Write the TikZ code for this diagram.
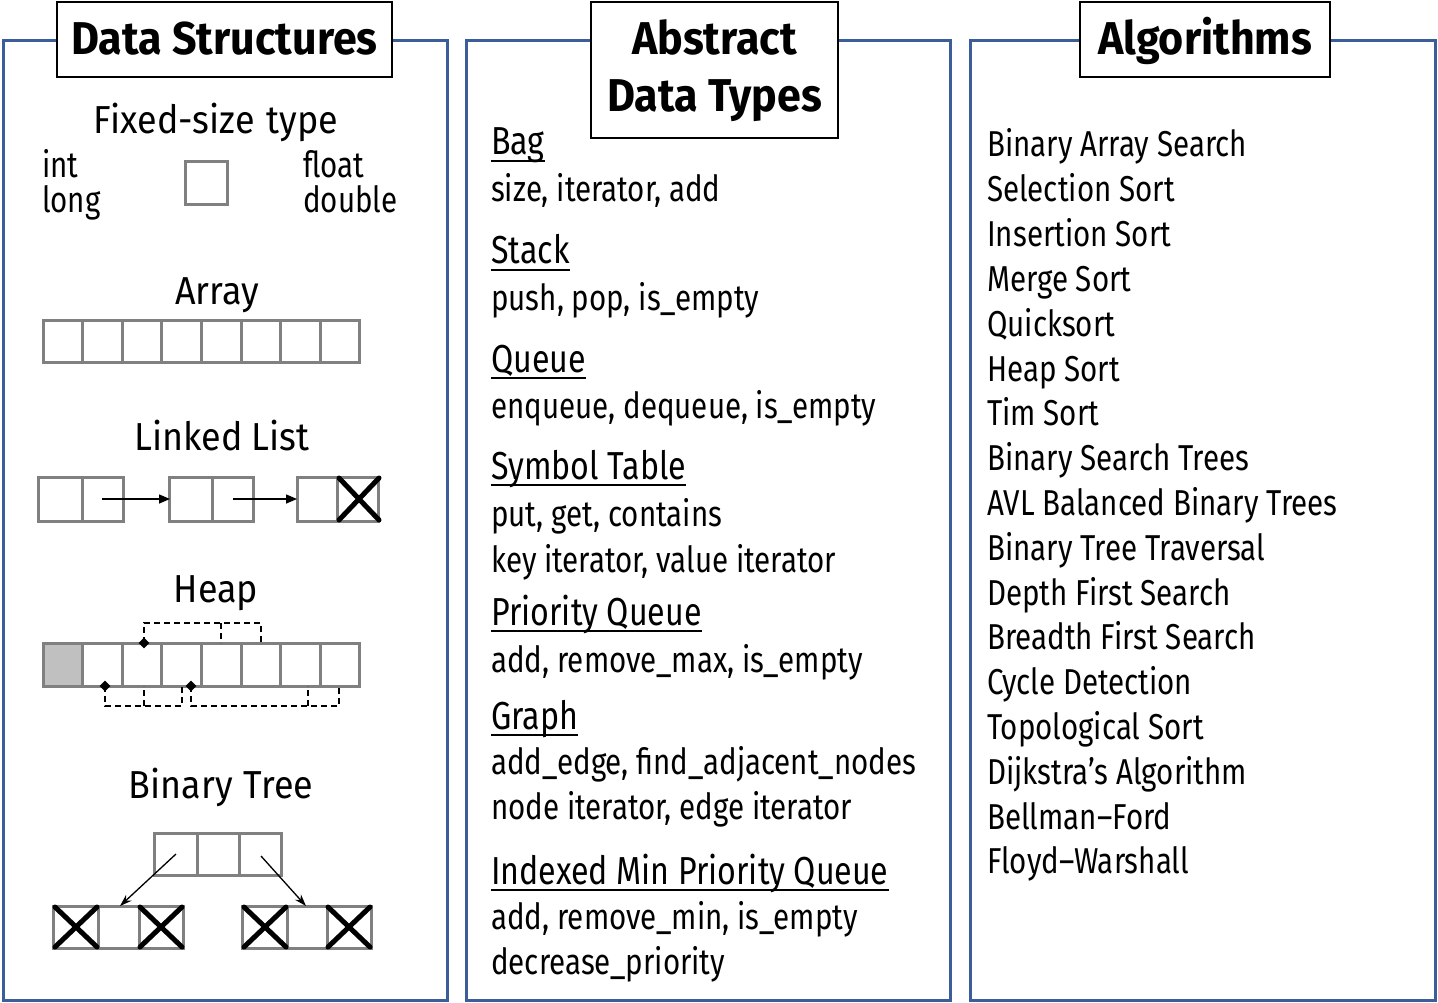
\documentclass[tikz,border=0pt]{standalone}
\usepackage{fontspec}
\usetikzlibrary{arrows.meta,shapes.geometric}
\newfontfamily\bodyfont{Fira Sans}[FakeStretch=0.82]
\newfontfamily\headingfont{Fira Sans}[FakeStretch=0.825]
\newfontfamily\leftfont{Fira Sans}[FakeStretch=0.92]
\newfontfamily\headfont{Fira Sans}[FakeStretch=0.935]
\definecolor{panelblue}{RGB}{59,94,154}
\definecolor{cellgray}{RGB}{128,128,128}
\definecolor{rootfill}{RGB}{192,192,192}
\tikzset{
  panel/.style={draw=panelblue, line width=3pt},
  titlebox/.style={draw=black, fill=white, line width=2.5pt, inner sep=0pt},
  titletext/.style={anchor=base, inner sep=0pt, font=\headfont\bfseries\fontsize{46}{57}\selectfont},
  txt/.style={anchor=base west, inner sep=0pt, font=\bodyfont\fontsize{36}{43}\selectfont},
  htxt/.style={anchor=base west, inner sep=0pt, font=\headingfont\fontsize{39}{46}\selectfont},
  ctxt/.style={anchor=base, inner sep=0pt, font=\leftfont\fontsize{39}{46}\selectfont},
  cell/.style={draw=cellgray, line width=3pt},
  xmark/.style={draw=black, line width=5pt, line cap=round},
  link/.style={draw=black, line width=1.5pt, -{Triangle[length=11pt,width=9pt]}},
  dlink/.style={draw=black, line width=1.3pt, -{Stealth[length=12pt,width=8pt]}},
  heapdash/.style={draw=black, line width=2pt, dash pattern=on 6pt off 4pt},
  diam/.style={diamond, fill=black, inner sep=0pt, minimum size=11pt},
  uline/.style={draw=black, line width=1.8pt}
}
\begin{document}
\begin{tikzpicture}[x=1pt, y=-1pt]
\path[use as bounding box, fill=white] (0,0) rectangle (1438,1003);

% panels
\draw[panel] (3,41) rectangle (447,1000);
\draw[panel] (466,41) rectangle (950,1000);
\draw[panel] (970,41) rectangle (1435,1000);

% title boxes
\node[titlebox, minimum width=335pt, minimum height=75pt] (tds) at (224.5,39.5) {};
\node[titletext] (tdst) at (224.5,55) {Data Structures};
\node[titlebox, minimum width=247pt, minimum height=136pt] (tadt) at (714.5,70) {};
\node[titletext] (tadt1) at (714.5,55) {Abstract};
\node[titletext] (tadt2) at (714.5,112) {Data Types};
\node[titlebox, minimum width=250pt, minimum height=75pt] (talg) at (1205,39.5) {};
\node[titletext] (talgt) at (1205,55) {Algorithms};

% ---------------- Data Structures ----------------
\node[ctxt] (fixed) at (216,134) {Fixed-size\hspace{12pt}type};
\node[txt] (int) at (42,178) {int};
\node[txt] (long) at (42,213) {long};
\node[txt] (float) at (303,178) {float};
\node[txt] (double) at (303,213) {double};
\draw[cell] (185,162) rectangle (227,205);

\node[ctxt] (array) at (217,304) {Array};
\foreach \i in {0,...,7} {
  \draw[cell] ({43+39.6*\i},320) rectangle ({43+39.6*(\i+1)},362);
}

\node[ctxt] (ll) at (222,450) {Linked List};
\draw[cell] (38,477) rectangle (123,521);
\draw[cell] (82,477) -- (82,521);
\draw[cell] (169,477) rectangle (253,521);
\draw[cell] (212,477) -- (212,521);
\draw[cell] (297,477) rectangle (378,521);
\draw[cell] (337,477) -- (337,521);
\draw[xmark] (339,478) -- (379,520);
\draw[xmark] (339,520) -- (379,478);
\coordinate (l1s) at (102,499);
\coordinate (l1e) at (170,499);
\coordinate (l2s) at (233,499);
\coordinate (l2e) at (297,499);
\draw[link] (l1s) -- (l1e);
\draw[link] (l2s) -- (l2e);

\node[ctxt] (heap) at (216,602) {Heap};
\fill[rootfill] (43,643) rectangle (82.6,686);
\foreach \i in {0,...,7} {
  \draw[cell] ({43+39.6*\i},643) rectangle ({43+39.6*(\i+1)},686);
}
\coordinate (h2) at (144,643);
\coordinate (h1) at (105,686);
\coordinate (h3) at (191,686);
\draw[heapdash] (h2) -- (144,623) -- (261,623) -- (261,643);
\draw[heapdash] (221,623) -- (221,643);
\draw[heapdash] (h1) -- (105,706) -- (182,706) -- (182,686);
\draw[heapdash] (144,706) -- (144,686);
\draw[heapdash] (h3) -- (191,706) -- (339,706) -- (339,686);
\draw[heapdash] (308,706) -- (308,686);
\node[diam] (d2) at (h2) {};
\node[diam] (d1) at (h1) {};
\node[diam] (d3) at (h3) {};

\node[ctxt] (bt) at (221,798) {Binary\hspace{11pt}Tree};
\draw[cell] (154,833) rectangle (281,875);
\draw[cell] (197,833) -- (197,875);
\draw[cell] (239,833) -- (239,875);
\draw[cell] (53,906) rectangle (183,948);
\draw[cell] (98,906) -- (98,948);
\draw[cell] (139,906) -- (139,948);
\draw[cell] (242,906) rectangle (371,948);
\draw[cell] (287,906) -- (287,948);
\draw[cell] (327,906) -- (327,948);
\foreach \a/\b in {55/97, 140/182, 244/286, 328/370} {
  \draw[xmark] (\a,907) -- (\b,947);
  \draw[xmark] (\a,947) -- (\b,907);
}
\coordinate (tl) at (176,854);
\coordinate (tlc) at (120,906);
\coordinate (tr) at (261,856);
\coordinate (trc) at (306,906);
\draw[dlink] (tl) -- (tlc);
\draw[dlink] (tr) -- (trc);

% ---------------- Abstract Data Types ----------------
\node[htxt] (bag) at (491,155) {Bag\ };
\node[txt] (bagops) at (491,202) {size, iterator, add};
\node[htxt] (stack) at (491,264) {Stack};
\node[txt] (stackops) at (491,310) {push, pop, is\_empty};
\node[htxt] (queue) at (491,372) {Queue};
\node[txt] (queueops) at (491,418) {enqueue, dequeue, is\_empty};
\node[htxt] (st) at (491,479) {Symbol Table};
\node[txt] (stops1) at (491,526) {put, get, contains};
\node[txt] (stops2) at (491,572) {key iterator, value iterator};
\node[htxt] (pq) at (491,625) {Priority Queue};
\node[txt] (pqops) at (491,672) {add, remove\_max, is\_empty};
\node[htxt] (graph) at (491,729) {Graph};
\node[txt] (gops1) at (491,774) {add\_edge, find\_adjacent\_nodes};
\node[txt] (gops2) at (491,819) {node iterator, edge iterator};
\node[htxt] (ipq) at (491,884) {Indexed Min Priority Queue};
\node[txt] (ipqops1) at (491,929) {add, remove\_min, is\_empty};
\node[txt] (ipqops2) at (491,974) {decrease\_priority};
\foreach \n in {bag,stack,queue,st,pq,graph,ipq} {
  \draw[uline] ([yshift=-6pt]\n.base west) -- ([yshift=-6pt]\n.base east);
}

% ---------------- Algorithms ----------------
\foreach \t [count=\i from 0] in {Binary Array Search, Selection Sort, Insertion Sort, Merge Sort, Quicksort, Heap Sort, Tim Sort, Binary Search Trees, AVL Balanced Binary Trees, Binary Tree Traversal, Depth First Search, Breadth First Search, Cycle Detection, Topological Sort, Dijkstra’s Algorithm, Bellman–Ford, Floyd–Warshall} {
  \node[txt] (alg\i) at (987,{157+44.8*\i}) {\t};
}
\end{tikzpicture}
\end{document}
